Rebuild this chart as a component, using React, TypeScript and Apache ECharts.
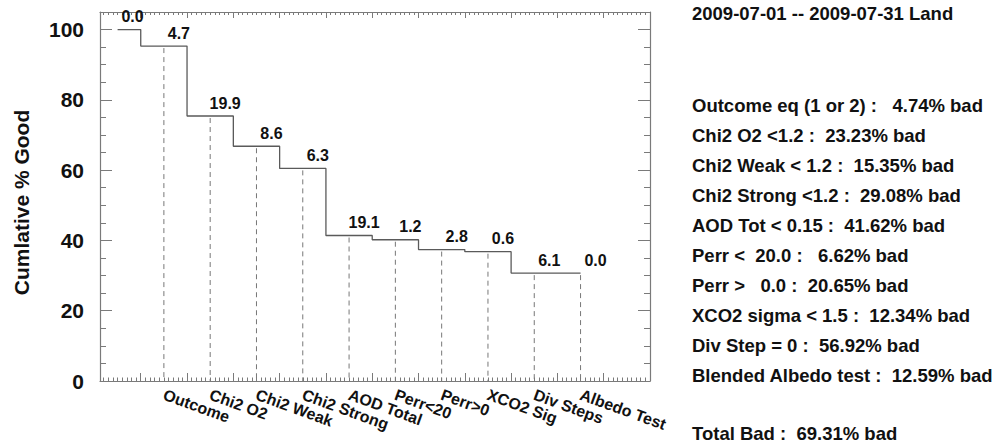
import React, { useEffect, useRef } from "react";
import * as echarts from "echarts";

// Filter steps in the order they are applied (first entry is the unfiltered start)
const stepNames = ["", "Outcome", "Chi2 O2", "Chi2 Weak", "Chi2 Strong", "AOD Total", "Perr<20", "Perr>0", "XCO2 Sig", "Div Steps", "Albedo Test"];
// Percent of soundings removed by each step
const dropPct = [0.0, 4.7, 19.9, 8.6, 6.3, 19.1, 1.2, 2.8, 0.6, 6.1, 0.0];

// Summary panel
const periodTitle = "2009-07-01 -- 2009-07-31 Land";
const criteria = [
  "Outcome eq (1 or 2)",
  "Chi2 O2 <1.2",
  "Chi2 Weak < 1.2",
  "Chi2 Strong <1.2",
  "AOD Tot < 0.15",
  "Perr <  20.0",
  "Perr >   0.0",
  "XCO2 sigma < 1.5",
  "Div Step = 0",
  "Blended Albedo test",
];
const badPct = [4.74, 23.23, 15.35, 29.08, 41.62, 6.62, 20.65, 12.34, 56.92, 12.59];
const totalBadPct = 69.31;

const FONT = '"Liberation Sans", Arial, Helvetica, sans-serif';
const AXIS = "#7a7a7a";
const INK = "#111";

// The x axis runs right-to-left internally (inverse) so that its ticks,
// counted from 0 at the right-hand frame, fall halfway between steps.
const X_SPAN = 11.88;
const X_END = 11.5; // position of step 0
const stepPos = (i: number) => X_END - i;

export default function App() {
  const ref = useRef<HTMLDivElement>(null);

  useEffect(() => {
    if (!ref.current) return;
    const chart = echarts.init(ref.current, undefined, { renderer: "svg" });

    // cumulative % good after each step
    let level = 100;
    const points = dropPct.map((d, i) => {
      level = Math.round((level - d) * 100) / 100;
      return [stepPos(i), level];
    });

    const fmtPct = (p: number) => p.toFixed(2).padStart(5, " ");
    const rowY = (k: number) => 105 + 30 * k;
    const panelFont = `bold 18.5px ${FONT}`;

    const graphics: any[] = [
      {
        type: "text",
        x: 692,
        y: 13,
        style: { text: periodTitle, fill: INK, font: panelFont, verticalAlign: "middle" },
      },
      ...criteria.map((c, k) => ({
        type: "text",
        x: 692,
        y: rowY(k),
        style: {
          text: `${c} :  ${fmtPct(badPct[k])}% bad`,
          fill: INK,
          font: panelFont,
          verticalAlign: "middle",
        },
      })),
      {
        type: "text",
        x: 692,
        y: 433,
        style: { text: `Total Bad :  ${fmtPct(totalBadPct)}% bad`, fill: INK, font: panelFont, verticalAlign: "middle" },
      },
    ];

    const baseX = {
      type: "value",
      inverse: true,
      min: 0,
      max: X_SPAN,
      splitLine: { show: false },
    };
    const baseY = {
      type: "value",
      min: 0,
      max: 105,
      splitLine: { show: false },
    };

    chart.setOption({
      animation: false,
      backgroundColor: "#fff",
      grid: { left: 100, right: 346, top: 12, bottom: 63, containLabel: false },
      xAxis: [
        {
          ...baseX,
          position: "bottom",
          interval: 1,
          axisLine: { show: true, onZero: false, lineStyle: { color: AXIS, width: 1.2 } },
          axisTick: { show: true, inside: true, length: 8, lineStyle: { color: AXIS } },
          minorTick: { show: true, splitNumber: 10, length: 3.5, lineStyle: { color: AXIS } },
          axisLabel: { show: false },
        },
        {
          ...baseX,
          position: "top",
          interval: 1,
          axisLine: { show: true, onZero: false, lineStyle: { color: AXIS, width: 1.2 } },
          axisTick: { show: true, inside: true, length: 6, lineStyle: { color: AXIS } },
          minorTick: { show: true, splitNumber: 10, length: 3, lineStyle: { color: AXIS } },
          axisLabel: { show: false },
        },
        {
          ...baseX,
          position: "bottom",
          interval: 0.5,
          axisLine: { show: false, onZero: false },
          axisTick: { show: false },
          axisLabel: {
            show: true,
            rotate: -20,
            margin: 13,
            color: INK,
            fontFamily: FONT,
            fontWeight: "bold",
            fontSize: 16,
            formatter: (v: number) => {
              const i = X_END - v;
              const r = Math.round(i);
              if (Math.abs(i - r) > 1e-6 || r < 1 || r >= stepNames.length) return "";
              return stepNames[r];
            },
          },
        },
      ],
      yAxis: [
        {
          ...baseY,
          position: "left",
          interval: 20,
          name: "Cumlative % Good",
          nameLocation: "middle",
          nameGap: 68,
          nameRotate: 90,
          nameTextStyle: { color: INK, fontFamily: FONT, fontWeight: "bold", fontSize: 21, padding: [0, 12, 0, 0] },
          axisLine: { show: true, onZero: false, lineStyle: { color: AXIS, width: 1.2 } },
          axisTick: { show: true, inside: true, length: 12, lineStyle: { color: AXIS } },
          axisLabel: {
            show: true,
            margin: 16,
            color: INK,
            fontFamily: FONT,
            fontWeight: "bold",
            fontSize: 21,
            formatter: (v: number) => (v % 20 === 0 ? String(v) : ""),
          },
        },
        {
          ...baseY,
          position: "left",
          interval: 5,
          axisLine: { show: false, onZero: false },
          axisTick: { show: true, inside: true, length: 6, lineStyle: { color: AXIS } },
          axisLabel: { show: false },
        },
        {
          ...baseY,
          position: "right",
          interval: 20,
          axisLine: { show: true, onZero: false, lineStyle: { color: AXIS, width: 1.2 } },
          axisTick: { show: true, inside: true, length: 12, lineStyle: { color: AXIS } },
          axisLabel: { show: false },
        },
        {
          ...baseY,
          position: "right",
          interval: 5,
          axisLine: { show: false, onZero: false },
          axisTick: { show: true, inside: true, length: 6, lineStyle: { color: AXIS } },
          axisLabel: { show: false },
        },
      ],
      series: [
        {
          // dashed drop lines below each filter step
          type: "custom",
          xAxisIndex: 0,
          yAxisIndex: 0,
          silent: true,
          z: 1,
          data: points.slice(1),
          renderItem: (_params: any, api: any) => {
            const u = api.value(0);
            const v = api.value(1);
            const top = api.coord([u, v]);
            const bot = api.coord([u, 0]);
            return {
              type: "line",
              shape: { x1: top[0], y1: top[1] + 2, x2: bot[0], y2: bot[1] },
              style: { stroke: "#777", lineWidth: 1, lineDash: [5, 4] },
            };
          },
        },
        {
          type: "line",
          xAxisIndex: 0,
          yAxisIndex: 0,
          step: "middle",
          z: 3,
          data: points,
          showSymbol: true,
          symbol: "circle",
          symbolSize: 0,
          itemStyle: { color: "#5a5a5a" },
          lineStyle: { color: "#5a5a5a", width: 1.3 },
          label: {
            show: true,
            position: "top",
            distance: 5,
            offset: [15, 0],
            color: INK,
            fontFamily: FONT,
            fontWeight: "bold",
            fontSize: 16,
            formatter: (p: any) => dropPct[p.dataIndex].toFixed(1),
          },
        },
      ],
      graphic: graphics,
    });

    return () => chart.dispose();
  }, []);

  return (
    <div
      ref={ref}
      style={{ position: "fixed", left: 0, top: 0, width: 996, height: 444, background: "#fff" }}
    />
  );
}
